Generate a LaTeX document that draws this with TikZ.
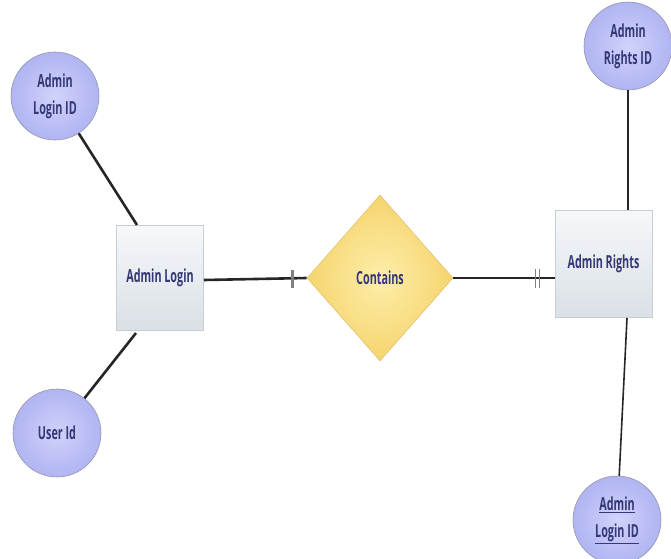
\documentclass[tikz,border=0pt]{standalone}
\usepackage{fontspec}
\setmainfont{Open Sans}[FakeStretch=0.6]
\usetikzlibrary{shapes.geometric}
\definecolor{txt}{RGB}{52,56,118}
\definecolor{circfill}{RGB}{176,180,242}
\definecolor{circin}{RGB}{208,211,250}
\definecolor{circline}{RGB}{150,150,170}
\definecolor{boxin}{RGB}{246,248,250}
\definecolor{boxout}{RGB}{218,224,230}
\definecolor{diaout}{RGB}{246,212,110}
\definecolor{diain}{RGB}{253,238,170}
\tikzset{
  lbl/.style={font=\fontsize{18}{27}\selectfont\bfseries, text=txt, align=center},
  attr/.style={circle, minimum size=88pt, inner sep=0pt, draw=circline, line width=0.6pt,
    inner color=circin, outer color=circfill, lbl},
  ent/.style={rectangle, draw=boxout!80!gray, line width=0.6pt, top color=boxin, bottom color=boxout, lbl, inner sep=0pt},
  rel/.style={diamond, draw=diaout!80!gray, line width=0.6pt, inner color=diain, outer color=diaout, lbl, inner sep=0pt, aspect=0.88},
  thickc/.style={line width=2.6pt, black!85},
  thinc/.style={line width=1.6pt, black!85},
  tick/.style={line width=3pt, gray},
}
\begin{document}
\begin{tikzpicture}[x=1pt,y=-1pt]
\useasboundingbox (0,0) rectangle (671,558);
\node[attr] (a1) at (55,96) {Admin\\Login ID};
\node[attr] (a2) at (57,433) {User Id};
\node[attr] (a3) at (628,46) {Admin\\Rights ID};
\node[attr] (a4) at (617,520) {\underline{Admin}\\\underline{Login ID}};
\node[ent, minimum width=87pt, minimum height=105pt] (e1) at (160,278) {Admin Login};
\node[ent, minimum width=97pt, minimum height=107pt] (e2) at (603.5,264) {Admin Rights};
\node[rel, minimum width=146pt, minimum height=166pt] (r) at (380,278) {Contains};
% connectors
\coordinate (e1t) at (137,225);
\coordinate (e1b) at (136,333);
\draw[thickc] (a1) -- (e1t);
\draw[thickc] (a2) -- (e1b);
\draw[thickc] (e1.east |- 0,280) -- (r.west);
\draw[tick] (292,270) -- (292,288);
\draw[thinc] (r.east) -- (e2.west |- 0,278);
\draw[line width=1pt, gray] (535,269) -- (535,288);
\draw[line width=1pt, gray] (539,269) -- (539,288);
\coordinate (e2t) at (628,210);
\coordinate (e2b) at (627,318);
\draw[thinc] (a3) -- (e2t);
\draw[thinc] (e2b) -- (a4);
\end{tikzpicture}
\end{document}
